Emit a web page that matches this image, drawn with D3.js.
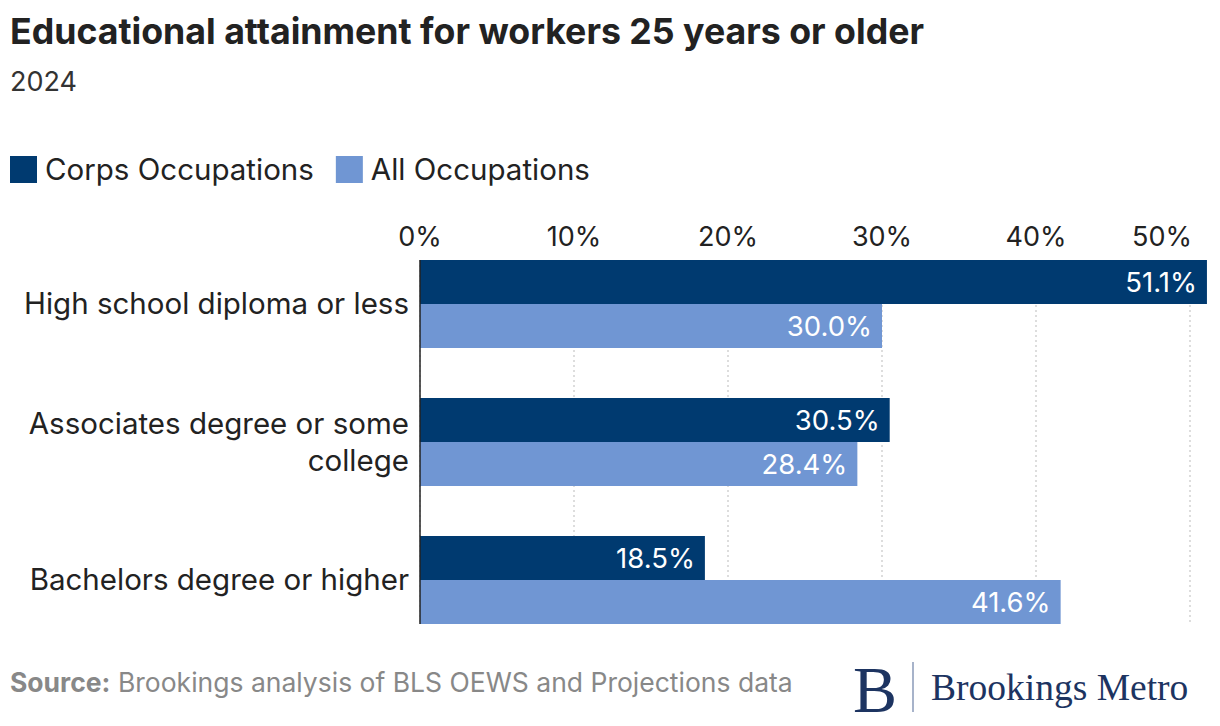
<!DOCTYPE html><html><head><meta charset="utf-8"><script src="https://cdn.jsdelivr.net/npm/d3@7"></script>
<style>body{margin:0;background:#fff}svg{font-family:Inter,sans-serif}</style></head><body><svg id="c" width="1220" height="726"></svg>
<script>
const categories=[["High school diploma or less"],["Associates degree or some","college"],["Bachelors degree or higher"]];
const seriesNames=["Corps Occupations","All Occupations"];
const corps=[51.1,30.5,18.5];
const all=[30.0,28.4,41.6];
const ticks=[0,10,20,30,40,50];
const colors=["#003a70","#7096d3"];
const svg=d3.select("#c");
const x=d3.scaleLinear().domain([0,50]).range([420,1190]);
const y=d3.scaleBand().domain([0,1,2]).range([260,624]).paddingInner(50/138).paddingOuter(0);
svg.append("text").attr("x",10).attr("y",44).attr("font-size",35.7).attr("font-weight",700).attr("fill","#222").text("Educational attainment for workers 25 years or older");
svg.append("text").attr("x",10).attr("y",91).attr("font-size",27).attr("fill","#333").text("2024");
let lx=10;
seriesNames.forEach((n,i)=>{svg.append("rect").attr("x",lx).attr("y",156).attr("width",27).attr("height",27).attr("fill",colors[i]);
 const t=svg.append("text").attr("x",lx+35).attr("y",180).attr("font-size",29.5).attr("fill","#222").text(n);lx+=35+t.node().getComputedTextLength()+22;});
ticks.forEach((t,i)=>{const last=i===ticks.length-1;
 svg.append("line").attr("x1",x(t)).attr("x2",x(t)).attr("y1",260).attr("y2",624).attr("stroke","#bbb").attr("stroke-dasharray","2,3");
 svg.append("text").attr("x",last?x(t)+2:x(t)).attr("y",246).attr("text-anchor",last?"end":"middle").attr("font-size",27).attr("fill","#222").text(t+"%");});
const bh=y.bandwidth()/2;
[corps,all].forEach((s,si)=>s.forEach((v,i)=>{const yy=y(i)+si*bh;
 svg.append("rect").attr("x",x(0)).attr("y",yy).attr("width",x(v)-x(0)).attr("height",bh).attr("fill",colors[si]);
 svg.append("text").attr("x",x(v)-10).attr("y",yy+bh/2+10).attr("text-anchor","end").attr("font-size",27.5).attr("fill","#fff").text(v.toFixed(1)+"%");}));
categories.forEach((c,i)=>{const cy=y(i)+y.bandwidth()/2;const n=c.length;
 c.forEach((l,j)=>svg.append("text").attr("x",409).attr("y",cy+10+(j-(n-1)/2)*37).attr("text-anchor","end").attr("font-size",29.5).attr("fill","#222").text(l));});
svg.append("line").attr("x1",420).attr("x2",420).attr("y1",260).attr("y2",624).attr("stroke","#222").attr("stroke-width",1.5);
const st=svg.append("text").attr("x",10).attr("y",692).attr("font-size",26.5).attr("fill","#888");
st.append("tspan").attr("font-weight",700).text("Source:");st.append("tspan").text(" Brookings analysis of BLS OEWS and Projections data");
svg.append("text").attr("x",875).attr("y",712).attr("text-anchor","middle").style("font-family","'Liberation Serif',serif").attr("font-size",66).attr("fill","#1d3461").text("B");
svg.append("line").attr("x1",913).attr("x2",913).attr("y1",662).attr("y2",712).attr("stroke","#8a9ab8").attr("stroke-width",1.5);
svg.append("text").attr("x",931).attr("y",700).style("font-family","'Liberation Serif',serif").attr("font-size",37.5).attr("fill","#1d3461").text("Brookings Metro");
</script></body></html>
